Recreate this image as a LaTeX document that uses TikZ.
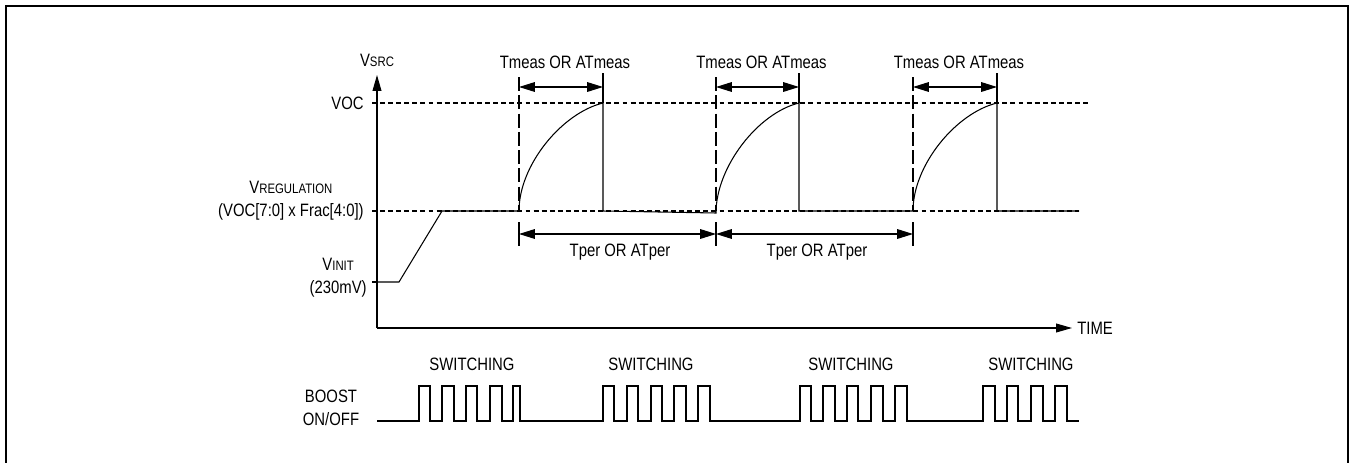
\documentclass[tikz,border=0pt]{standalone}
\usepackage{fontspec}
\setmainfont{Liberation Sans}[FakeStretch=0.83]
\usetikzlibrary{arrows.meta}
\begin{document}
\begin{tikzpicture}[x=0.02cm,y=-0.02cm,
  wave/.style={line width=0.6pt},
  frame/.style={line width=1.2pt},
  guide/.style={line width=0.6pt, dash pattern=on 2.8pt off 1.8pt},
  longdash/.style={line width=0.6pt, dash pattern=on 8pt off 2.4pt},
  dimarrow/.style={line width=0.6pt, {Triangle[length=9pt,width=5.5pt]}-{Triangle[length=9pt,width=5.5pt]}},
  axisarrow/.style={line width=0.6pt, -{Triangle[length=9pt,width=5pt]}},
  lbl/.style={font=\fontsize{10.2}{13}\selectfont, inner sep=0pt}
]
\newcommand{\subsc}[1]{{\fontsize{7.8}{9}\selectfont #1}}
\useasboundingbox (0,0) rectangle (1350,463);
% frame
\draw[frame] (6,465) -- (6,6) -- (1348,6) -- (1348,465);

% axes
\coordinate (origin) at (377,328);
\coordinate (ytop) at (377,75);
\coordinate (xend) at (1072,328);
\draw[axisarrow] (origin) -- (ytop);
\draw[axisarrow] (origin) -- (xend);
\node[lbl, anchor=west] (time) at (1077,328) {TIME};
\node[lbl] (vsrc) at (377,60) {V\subsc{SRC}};

% level guides
\draw[guide] (372,103) -- (1088,103);
\draw[guide] (372,211) -- (1079,211);
\draw[wave] (372,282) -- (377,282);

\node[lbl, anchor=east] (voc) at (364,103) {VOC};
\node[lbl, anchor=east, align=center] (vreg) at (364,201) {V\subsc{REGULATION}\\(VOC[7:0] x Frac[4:0])};
\node[lbl, anchor=east, align=center] (vinit) at (367,278) {V\subsc{INIT}\\(230mV)};

% VSRC waveform
\draw[wave] (377,282) -- (399,282) -- (442,211) -- (519,211)
  .. controls (519,165) and (562,113) .. (603,103) -- (603,211)
  -- (716,213)
  .. controls (716,167) and (758,113) .. (799,103) -- (799,211)
  -- (913,211)
  .. controls (913,165) and (956,113) .. (997,103) -- (997,211)
  -- (1079,211);

% measurement markers
\foreach \xa/\xb/\n in {519/603/a, 716/799/b, 913/997/c}{
  \coordinate (ms\n) at (\xa,87);
  \coordinate (me\n) at (\xb,87);
  \draw[longdash] (\xa,77) -- (\xa,211);
  \draw[wave] (\xb,73) -- (\xb,103);
  \draw[dimarrow] (ms\n) -- (me\n);
  \node[lbl] (tm\n) at ({(\xa+\xb)/2+4},62) {Tmeas OR ATmeas};
}

% period markers
\foreach \x in {519,716,913}{ \draw[wave] (\x,222) -- (\x,246); }
\coordinate (pa) at (519,234);
\coordinate (pb) at (716,234);
\coordinate (pc) at (913,234);
\draw[dimarrow] (pa) -- (pb);
\draw[dimarrow] (pb) -- (pc);
\node[lbl] (tp1) at (620,252) {Tper OR ATper};
\node[lbl] (tp2) at (817,252) {Tper OR ATper};

% BOOST waveform
\node[lbl, align=center] (boost) at (331,408) {BOOST\\ON/OFF};
\def\lo{421}\def\hi{386}
\draw[wave] (377,\lo)
  -- (419,\lo) -- (419,\hi) -- (430,\hi) -- (430,\lo)
  -- (442,\lo) -- (442,\hi) -- (454,\hi) -- (454,\lo)
  -- (466,\lo) -- (466,\hi) -- (477,\hi) -- (477,\lo)
  -- (490,\lo) -- (490,\hi) -- (502,\hi) -- (502,\lo)
  -- (513,\lo) -- (513,\hi) -- (520,\hi) -- (520,\lo)
  -- (603,\lo) -- (603,\hi) -- (614,\hi) -- (614,\lo)
  -- (627,\lo) -- (627,\hi) -- (638,\hi) -- (638,\lo)
  -- (651,\lo) -- (651,\hi) -- (662,\hi) -- (662,\lo)
  -- (674,\lo) -- (674,\hi) -- (686,\hi) -- (686,\lo)
  -- (698,\lo) -- (698,\hi) -- (710,\hi) -- (710,\lo)
  -- (800,\lo) -- (800,\hi) -- (811,\hi) -- (811,\lo)
  -- (823,\lo) -- (823,\hi) -- (835,\hi) -- (835,\lo)
  -- (847,\lo) -- (847,\hi) -- (858,\hi) -- (858,\lo)
  -- (871,\lo) -- (871,\hi) -- (883,\hi) -- (883,\lo)
  -- (895,\lo) -- (895,\hi) -- (907,\hi) -- (907,\lo)
  -- (983,\lo) -- (983,\hi) -- (995,\hi) -- (995,\lo)
  -- (1007,\lo) -- (1007,\hi) -- (1018,\hi) -- (1018,\lo)
  -- (1031,\lo) -- (1031,\hi) -- (1043,\hi) -- (1043,\lo)
  -- (1055,\lo) -- (1055,\hi) -- (1067,\hi) -- (1067,\lo)
  -- (1079,\lo);
\node[lbl] (sw1) at (472,364) {SWITCHING};
\node[lbl] (sw2) at (651,364) {SWITCHING};
\node[lbl] (sw3) at (851,364) {SWITCHING};
\node[lbl] (sw4) at (1031,364) {SWITCHING};
\end{tikzpicture}
\end{document}
